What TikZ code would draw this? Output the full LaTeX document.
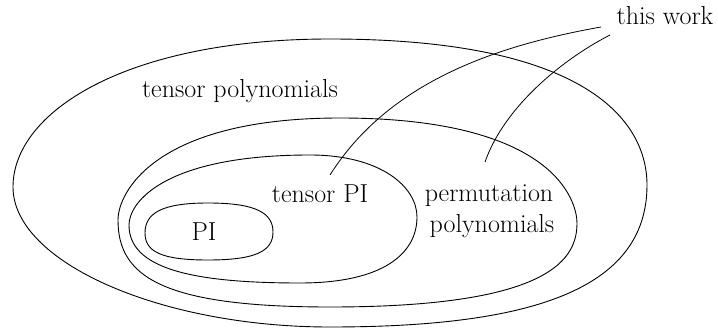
\documentclass[tikz,border=0pt]{standalone}
\begin{document}
\begin{tikzpicture}[x=1pt,y=-1pt,
  blob/.style={draw=black,line width=0.9pt},
  conn/.style={draw=black,line width=0.8pt},
  lbl/.style={inner sep=0pt,font=\fontsize{26}{31}\selectfont}]
\useasboundingbox (0,0) rectangle (718,329);
% outer: tensor polynomials
\draw[blob] (13,187) .. controls (13,112) and (126,39) .. (330,39)
  .. controls (587,39) and (647,121) .. (647,185)
  .. controls (647,290) and (530,327) .. (330,327)
  .. controls (160,327) and (13,262) .. cycle;
% permutation polynomials
\draw[blob] (118,220) .. controls (118,192) and (156,118) .. (340,118)
  .. controls (557,118) and (577,203) .. (577,223)
  .. controls (577,258) and (553,307) .. (330,307)
  .. controls (159,307) and (118,275) .. cycle;
% tensor PI
\draw[blob] (129,225) .. controls (129,202) and (165,155) .. (310,155)
  .. controls (381,155) and (417,187) .. (417,217)
  .. controls (417,253) and (384,283) .. (300,283)
  .. controls (190,283) and (129,268) .. cycle;
% PI
\draw[blob] (145,233) .. controls (145,213) and (162,203) .. (208,203)
  .. controls (256,203) and (273,213) .. (273,232)
  .. controls (273,251) and (256,260) .. (208,260)
  .. controls (162,260) and (145,252) .. cycle;
% labels
\node[lbl,anchor=base] (tp) at (240,97) {tensor polynomials};
\node[lbl,anchor=base] (tpi) at (320,202) {tensor PI};
\node[lbl,anchor=base] (pi) at (204,240) {PI};
\node[lbl,anchor=base] (perm) at (489,201) {permutation};
\node[lbl,anchor=base] (poly) at (492,232) {polynomials};
\node[lbl,anchor=base] (tw) at (665,25) {this work};
% connectors
\coordinate (s1) at (601,27);
\coordinate (e1) at (330,175);
\coordinate (s2) at (610,35);
\coordinate (e2) at (485,162);
\draw[conn] (s1) .. controls (500,45) and (390,80) .. (e1);
\draw[conn] (s2) .. controls (565,58) and (505,105) .. (e2);
\end{tikzpicture}
\end{document}
